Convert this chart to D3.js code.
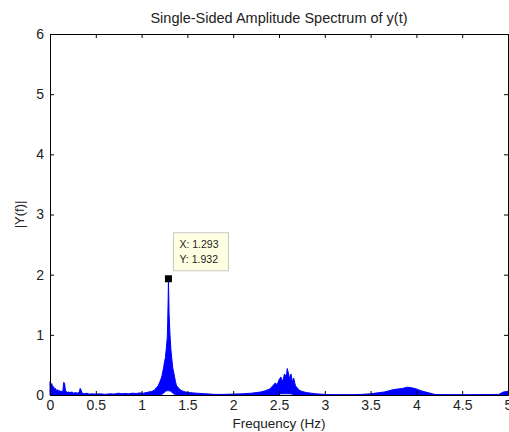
<!DOCTYPE html>
<html>
<head>
<meta charset="utf-8">
<script src="https://cdn.jsdelivr.net/npm/d3@7"></script>
<style>
  body { margin: 0; background: #fff; }
  svg { display: block; font-family: "Liberation Sans", Arial, sans-serif; }
  .axis text { fill: #222; font-size: 14px; }
  .axis path, .axis line { stroke: #000; }
</style>
</head>
<body>
<svg width="509" height="432"></svg>
<script>
// spectrum: [frequency Hz, upper |Y(f)|, lower |Y(f)|]
var spectrum = [
  [0.00,0.22,0],[0.01,0.17,0],[0.02,0.19,0],[0.03,0.12,0],[0.04,0.14,0],
  [0.05,0.09,0],[0.06,0.11,0],[0.07,0.07,0],[0.08,0.09,0],[0.09,0.06,0],
  [0.10,0.08,0],[0.11,0.05,0],[0.12,0.07,0],[0.13,0.05,0],[0.14,0.06,0],
  [0.15,0.21,0],[0.16,0.19,0],[0.17,0.05,0],[0.18,0.06,0],[0.19,0.04,0],
  [0.20,0.05,0],[0.22,0.04,0],[0.24,0.05,0],[0.26,0.03,0],[0.28,0.04,0],
  [0.30,0.03,0],[0.32,0.05,0],[0.33,0.11,0],[0.34,0.08,0],[0.35,0.03,0],
  [0.38,0.02,0],[0.40,0.03,0],[0.43,0.015,0],[0.46,0.02,0],[0.50,0.015,0],
  [0.55,0.02,0],[0.60,0.01,0],[0.65,0.02,0],[0.70,0.015,0],[0.75,0.03,0],
  [0.78,0.02,0],[0.82,0.025,0],[0.86,0.02,0],[0.90,0.03,0],[0.94,0.025,0],
  [0.98,0.035,0],[1.02,0.03,0],[1.05,0.04,0],[1.08,0.05,0],[1.11,0.06,0],
  [1.14,0.08,0],[1.16,0.12,0],[1.18,0.15,0],[1.20,0.22,0],[1.22,0.30,0.01],
  [1.23,0.38,0.02],[1.24,0.45,0.03],[1.25,0.55,0.05],[1.26,0.62,0.06],[1.27,0.78,0.07],
  [1.28,0.95,0.07],[1.285,1.2,0.07],[1.29,1.6,0.07],[1.293,1.932,0.07],[1.296,1.7,0.07],
  [1.30,1.35,0.07],[1.31,1.0,0.07],[1.32,0.75,0.06],[1.33,0.6,0.05],[1.34,0.45,0.03],
  [1.35,0.38,0.02],[1.36,0.3,0.01],[1.37,0.22,0],[1.38,0.16,0],[1.40,0.12,0],
  [1.42,0.09,0],[1.44,0.07,0],[1.46,0.06,0],[1.48,0.05,0],[1.52,0.04,0],
  [1.56,0.035,0],[1.60,0.03,0],[1.65,0.025,0],[1.70,0.02,0],[1.75,0.015,0],
  [1.80,0.01,0],[1.90,0.01,0],[2.00,0.015,0],[2.10,0.02,0],[2.20,0.03,0],
  [2.25,0.04,0],[2.30,0.05,0],[2.35,0.07,0],[2.40,0.10,0],[2.43,0.15,0],
  [2.46,0.20,0],[2.48,0.17,0],[2.50,0.25,0.01],[2.52,0.30,0.02],[2.54,0.22,0.02],
  [2.56,0.35,0.02],[2.58,0.30,0.02],[2.59,0.44,0.02],[2.60,0.38,0.02],[2.62,0.25,0.02],
  [2.63,0.35,0.02],[2.65,0.20,0.01],[2.66,0.28,0],[2.68,0.15,0],[2.70,0.12,0],
  [2.72,0.08,0],[2.75,0.06,0],[2.80,0.04,0],[2.85,0.03,0],[2.90,0.02,0],
  [3.00,0.01,0],[3.10,0.005,0],[3.20,0.005,0],[3.30,0.005,0],[3.40,0.01,0],
  [3.50,0.02,0],[3.60,0.04,0],[3.65,0.05,0],[3.70,0.07,0],[3.75,0.09,0],
  [3.80,0.10,0],[3.85,0.11,0],[3.90,0.13,0],[3.95,0.12,0],[4.00,0.10,0],
  [4.05,0.07,0],[4.10,0.05,0],[4.15,0.03,0],[4.20,0.01,0],[4.30,0.005,0],
  [4.60,0.005,0],[4.90,0.01,0],[4.95,0.05,0],[5.00,0.06,0]
];

var xTicks = [0, 0.5, 1, 1.5, 2, 2.5, 3, 3.5, 4, 4.5, 5];
var yTicks = [0, 1, 2, 3, 4, 5, 6];
var peak = [1.293, 1.932]; // data tip

var svg = d3.select("svg"),
    margin = {top: 34, right: 1, bottom: 37, left: 50},
    width = +svg.attr("width") - margin.left - margin.right,
    height = +svg.attr("height") - margin.top - margin.bottom;

var x = d3.scaleLinear().domain([0, 5]).range([0, width]);
var y = d3.scaleLinear().domain([0, 6]).range([height, 0]);

var g = svg.append("g").attr("transform", "translate(" + margin.left + "," + margin.top + ")");

// the spectrum, drawn as a band between lower and upper values
g.append("path")
    .datum(spectrum)
    .attr("fill", "#0000ff")
    .attr("stroke", "#0000ff")
    .attr("stroke-width", 1)
    .attr("d", d3.area()
        .x(function(d) { return x(d[0]); })
        .y0(function(d) { return y(d[2]); })
        .y1(function(d) { return y(d[1]); }));

// box axes with inward ticks
g.append("g").attr("class", "axis")
    .attr("transform", "translate(0," + height + ")")
    .call(d3.axisBottom(x).tickValues(xTicks).tickSizeInner(-4).tickSizeOuter(0).tickPadding(5).tickFormat(d3.format("")));
g.append("g").attr("class", "axis")
    .call(d3.axisTop(x).tickValues(xTicks).tickSizeInner(-4).tickSizeOuter(0).tickFormat(""));
g.append("g").attr("class", "axis")
    .call(d3.axisLeft(y).tickValues(yTicks).tickSizeInner(-4).tickSizeOuter(0).tickPadding(6).tickFormat(d3.format("d")));
g.append("g").attr("class", "axis")
    .attr("transform", "translate(" + width + ",0)")
    .call(d3.axisRight(y).tickValues(yTicks).tickSizeInner(-4).tickSizeOuter(0).tickFormat(""));

// data tip
g.append("rect")
    .attr("x", x(peak[0]) - 3.5).attr("y", y(peak[1]) - 3.5)
    .attr("width", 7).attr("height", 7)
    .attr("fill", "#000");
var tip = g.append("g").attr("transform", "translate(" + (x(peak[0]) + 5) + "," + (y(peak[1]) - 46) + ")");
tip.append("rect")
    .attr("width", 55).attr("height", 38)
    .attr("fill", "#ffffe1").attr("stroke", "#c8c8c8");
tip.append("text").attr("x", 6).attr("y", 15).attr("font-size", 10.5).attr("fill", "#222").text("X: " + peak[0]);
tip.append("text").attr("x", 6).attr("y", 30).attr("font-size", 10.5).attr("fill", "#222").text("Y: " + peak[1]);

// labels
svg.append("text")
    .attr("x", margin.left + width / 2).attr("y", 23)
    .attr("text-anchor", "middle").attr("font-size", 14.5).attr("fill", "#222")
    .text("Single-Sided Amplitude Spectrum of y(t)");
svg.append("text")
    .attr("x", margin.left + width / 2).attr("y", 428)
    .attr("text-anchor", "middle").attr("font-size", 13.5).attr("fill", "#222")
    .text("Frequency (Hz)");
svg.append("text")
    .attr("transform", "translate(24," + (margin.top + height / 2) + ") rotate(-90)")
    .attr("text-anchor", "middle").attr("font-size", 13).attr("fill", "#222")
    .text("|Y(f)|");
</script>
</body>
</html>
